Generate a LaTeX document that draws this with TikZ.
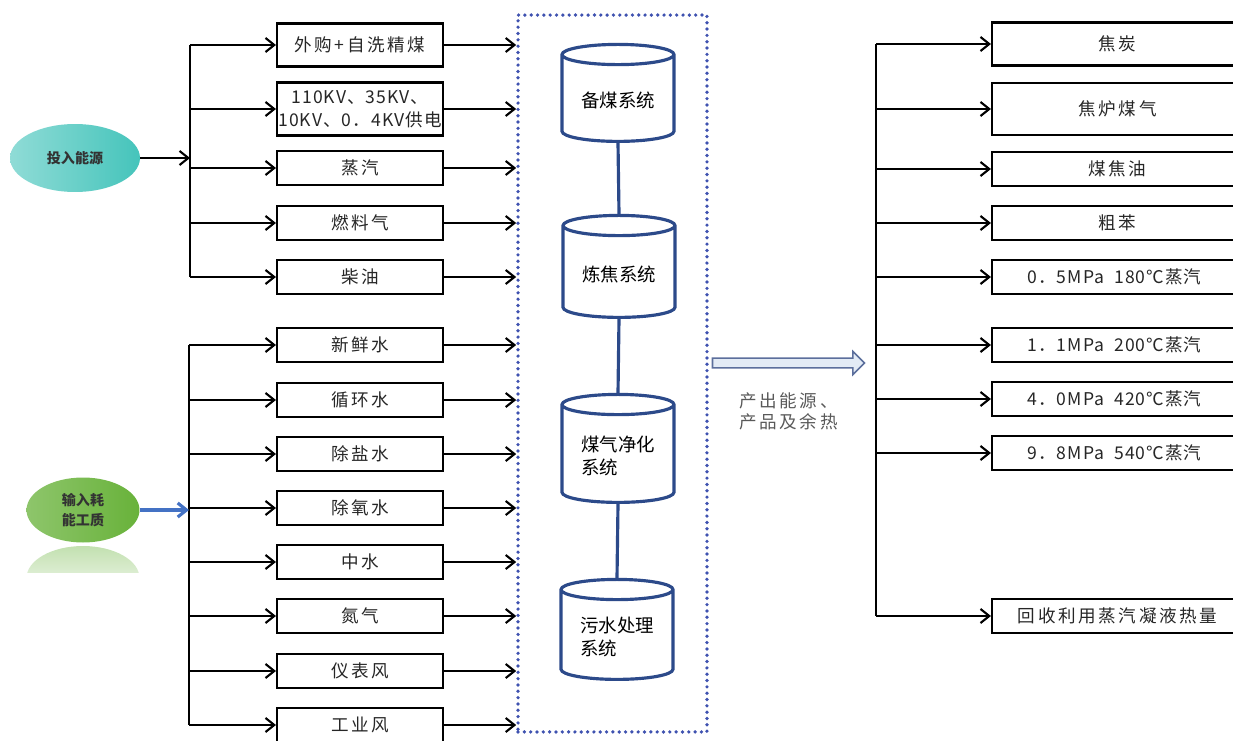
\documentclass[tikz,border=0pt]{standalone}
\usepackage{fontspec}
\setmainfont{Noto Sans CJK SC}
\newfontfamily\spaced[LetterSpace=15]{Noto Sans CJK SC}
\newfontfamily\tight[LetterSpace=6]{Noto Sans CJK SC}
\usepackage{tikz}
\usetikzlibrary{arrows.meta, shapes.geometric, shapes.arrows}
\definecolor{sysblue}{HTML}{2C4A8A}
\definecolor{dotblue}{HTML}{3F52B0}
\definecolor{tealsrc}{HTML}{45C4BB}
\definecolor{greensrc}{HTML}{68B23A}
\definecolor{flowedge}{HTML}{5C6F9C}
\definecolor{flowfill}{HTML}{E3EBF5}
\definecolor{inblue}{HTML}{4472C4}
\tikzstyle{field} = [rectangle, draw=black, line width=1.2pt, minimum width=3.32cm, minimum height=0.68cm, inner sep=0pt, align=center, font=\spaced\fontsize{10}{13}\selectfont, text=black!85]
\tikzstyle{product} = [field, minimum width=5.02cm]
\tikzstyle{source} = [ellipse, inner sep=0pt, align=center, font=\bfseries\fontsize{8}{11}\selectfont, text=black!80]
\tikzstyle{unit} = [cylinder, shape border rotate=90, draw=sysblue, line width=1.8pt, aspect=0.25, minimum width=2.24cm, align=left, inner sep=2pt, font=\fontsize{10.5}{13}\selectfont]
\tikzstyle{frame} = [rectangle, draw=dotblue, line width=2.1pt, dash pattern=on 0pt off 3.6pt, line cap=round, inner sep=0pt]
\tikzstyle{feed} = [line width=1.2pt, -{Straight Barb[length=5pt,width=8pt]}]
\tikzstyle{trunk} = [line width=1.2pt]
\tikzstyle{flow} = [single arrow, draw=flowedge, fill=flowfill, line width=0.9pt, inner sep=0pt, minimum width=0.46cm, single arrow head extend=0.13cm, single arrow head indent=0cm, text height=0.16cm, text depth=0cm, minimum height=3.04cm]

\begin{document}
\begin{tikzpicture}[x=0.02cm, y=-0.02cm]

        \clip (0,0) rectangle (1233,740);

        \node (src) [source, left color=tealsrc!60!white, right color=tealsrc, minimum width=2.6cm, minimum height=1.36cm] at (75,158) {投入能源};
        \begin{scope}
            \clip (20,546) rectangle (150,572);
            \shade[top color=greensrc!40, bottom color=white] (83,578) ellipse [x radius=1.13cm, y radius=0.64cm];
        \end{scope}
        \node (med) [source, left color=greensrc!75!white, right color=greensrc, minimum width=2.26cm, minimum height=1.3cm] at (83,510) {输入耗\\能工质};

        \node (in1) [field, minimum height=0.86cm] at (360,45)  {外购+自洗精煤};
        \node (in2) [field, minimum height=1.06cm, font=\tight\fontsize{10}{13}\selectfont] at (360,109) {110KV、35KV、\\10KV、0．4KV供电};
        \node (in3) [field] at (360,168) {蒸汽};
        \node (in4) [field] at (360,223) {燃料气};
        \node (in5) [field] at (360,277) {柴油};

        \node (w1) [field] at (360,345) {新鲜水};
        \node (w2) [field] at (360,400) {循环水};
        \node (w3) [field] at (360,454) {除盐水};
        \node (w4) [field] at (360,508) {除氧水};
        \node (w5) [field] at (360,562) {中水};
        \node (w6) [field] at (360,616) {氮气};
        \node (w7) [field] at (360,671) {仪表风};
        \node (w8) [field] at (360,725) {工业风};

        \node (plant) [frame, minimum width=3.78cm, minimum height=14.34cm] at (612.5,373.5) {};
        \node (u1) [unit, minimum height=1.94cm] at (618,100.5) {备煤系统};
        \node (u2) [unit, minimum height=2.04cm] at (619,274)   {炼焦系统};
        \node (u3) [unit, minimum height=2.16cm] at (618,456)   {煤气净化\\系统};
        \node (u4) [unit, minimum height=2cm]    at (617,637)   {污水处理\\系统};

        \node (out1) [product, minimum height=0.86cm] at (1117.5,44)  {焦炭};
        \node (out2) [product, minimum height=1.04cm] at (1117.5,109) {焦炉煤气};
        \node (out3) [product] at (1117.5,169) {煤焦油};
        \node (out4) [product] at (1117.5,223) {粗苯};
        \node (out5) [product, font=\tight\fontsize{10}{13}\selectfont] at (1117.5,277) {0．5MPa\ \ 180℃蒸汽\hspace{0.12cm}};
        \node (out6) [product, font=\tight\fontsize{10}{13}\selectfont] at (1117.5,345) {1．1MPa\ \ 200℃蒸汽\hspace{0.12cm}};
        \node (out7) [product, font=\tight\fontsize{10}{13}\selectfont] at (1117.5,399) {4．0MPa\ \ 420℃蒸汽\hspace{0.12cm}};
        \node (out8) [product, font=\tight\fontsize{10}{13}\selectfont] at (1117.5,453) {9．8MPa\ \ 540℃蒸汽\hspace{0.12cm}};
        \node (out9) [product] at (1117.5,616) {回收利用蒸汽凝液热量};

        \node (flow) [flow] at (786,363) {};
        \node (outlbl) [anchor=north west, align=left, inner sep=0pt, text=black!65, font=\spaced\fontsize{10}{12}\selectfont] at (739,392) {产出能源、\\产品及余热};

        \coordinate (busA) at (190,0);
        \coordinate (busB) at (189,0);
        \coordinate (busC) at (876,0);

        \draw[trunk] (busA |- in1.west) -- (busA |- in5.west);
        \draw[trunk] (busB |- w1.west) -- (busB |- w8.west);
        \draw[trunk] (busC |- out1.west) -- (busC |- out9.west);

        \draw[feed] (src.east) -- (busA |- src.east);
        \draw[feed, draw=inblue, line width=1.8pt] (med.east) -- (busB |- med.east);

        \draw[feed] (busA |- in1.west) -- (in1.west);
        \draw[feed] (busA |- in2.west) -- (in2.west);
        \draw[feed] (busA |- in3.west) -- (in3.west);
        \draw[feed] (busA |- in4.west) -- (in4.west);
        \draw[feed] (busA |- in5.west) -- (in5.west);

        \draw[feed] (busB |- w1.west) -- (w1.west);
        \draw[feed] (busB |- w2.west) -- (w2.west);
        \draw[feed] (busB |- w3.west) -- (w3.west);
        \draw[feed] (busB |- w4.west) -- (w4.west);
        \draw[feed] (busB |- w5.west) -- (w5.west);
        \draw[feed] (busB |- w6.west) -- (w6.west);
        \draw[feed] (busB |- w7.west) -- (w7.west);
        \draw[feed] (busB |- w8.west) -- (w8.west);

        \draw[feed] (in1.east) -- (in1.east -| plant.west);
        \draw[feed] (in2.east) -- (in2.east -| plant.west);
        \draw[feed] (in3.east) -- (in3.east -| plant.west);
        \draw[feed] (in4.east) -- (in4.east -| plant.west);
        \draw[feed] (in5.east) -- (in5.east -| plant.west);
        \draw[feed] (w1.east) -- (w1.east -| plant.west);
        \draw[feed] (w2.east) -- (w2.east -| plant.west);
        \draw[feed] (w3.east) -- (w3.east -| plant.west);
        \draw[feed] (w4.east) -- (w4.east -| plant.west);
        \draw[feed] (w5.east) -- (w5.east -| plant.west);
        \draw[feed] (w6.east) -- (w6.east -| plant.west);
        \draw[feed] (w7.east) -- (w7.east -| plant.west);
        \draw[feed] (w8.east) -- (w8.east -| plant.west);

        \draw[sysblue, line width=1.8pt] (u1.south) -- (u2.north);
        \draw[sysblue, line width=1.8pt] (u2.south) -- (u3.north);
        \draw[sysblue, line width=1.8pt] (u3.south) -- (u4.north);

        \draw[feed] (busC |- out1.west) -- (out1.west);
        \draw[feed] (busC |- out2.west) -- (out2.west);
        \draw[feed] (busC |- out3.west) -- (out3.west);
        \draw[feed] (busC |- out4.west) -- (out4.west);
        \draw[feed] (busC |- out5.west) -- (out5.west);
        \draw[feed] (busC |- out6.west) -- (out6.west);
        \draw[feed] (busC |- out7.west) -- (out7.west);
        \draw[feed] (busC |- out8.west) -- (out8.west);
        \draw[feed] (busC |- out9.west) -- (out9.west);

    \end{tikzpicture}
\end{document}
